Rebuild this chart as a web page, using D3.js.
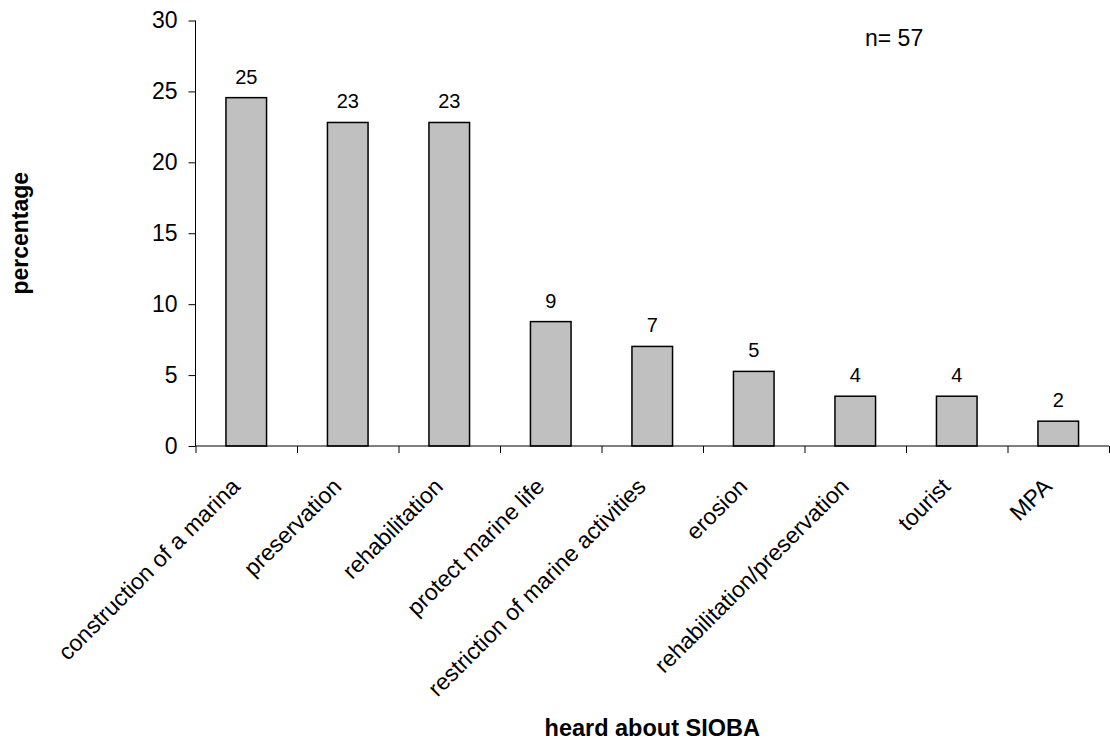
<!DOCTYPE html>
<html>
<head>
<meta charset="utf-8">
<script src="https://cdn.jsdelivr.net/npm/d3@7"></script>
<style>
  html, body { margin: 0; padding: 0; background: #fff; }
  svg { display: block; font-family: "Liberation Sans", Arial, sans-serif; }
</style>
</head>
<body>
<svg id="chart" width="1110" height="751"></svg>
<script>
// ---- data ----
const categories = [
  "construction of a marina",
  "preservation",
  "rehabilitation",
  "protect marine life",
  "restriction of marine activities",
  "erosion",
  "rehabilitation/preservation",
  "tourist",
  "MPA"
];
const percentages = [24.56, 22.81, 22.81, 8.77, 7.02, 5.26, 3.51, 3.51, 1.75];
const valueLabels = ["25", "23", "23", "9", "7", "5", "4", "4", "2"];
const yTicks = [0, 5, 10, 15, 20, 25, 30];
const yTitle = "percentage";
const xTitle = "heard about SIOBA";
const noteText = "n= 57";

// ---- layout ----
const svg = d3.select("#chart");
const x0 = 195.5, x1 = 1109, yBottom = 446, yTop = 20.5;

const x = d3.scaleBand().domain(categories).range([x0, x1]).paddingInner(0.6).paddingOuter(0.3);
const xb = d3.scaleLinear().domain([0, categories.length]).range([x0, x1]);
const y = d3.scaleLinear().domain([0, 30]).range([yBottom, yTop]);

// bars
svg.append("g").selectAll("rect").data(percentages).join("rect")
  .attr("x", (d, i) => x(categories[i]))
  .attr("y", d => y(d))
  .attr("width", x.bandwidth())
  .attr("height", d => y(0) - y(d))
  .attr("fill", "#c0c0c0")
  .attr("stroke", "#000")
  .attr("stroke-width", 1.5);

// value labels
svg.append("g").selectAll("text").data(percentages).join("text")
  .attr("x", (d, i) => x(categories[i]) + x.bandwidth() / 2)
  .attr("y", d => y(d) - 14)
  .attr("text-anchor", "middle")
  .attr("font-size", 20)
  .attr("fill", "#000")
  .text((d, i) => valueLabels[i]);

// y axis
const yAxis = d3.axisLeft(y).tickValues(yTicks).tickSize(7).tickPadding(11).tickFormat(d3.format("d"));
const gy = svg.append("g").attr("transform", `translate(${x0},0)`).call(yAxis);
gy.select(".domain").attr("stroke", "#000").attr("d", `M0,${yTop}V${yBottom}`);
gy.selectAll(".tick line").attr("stroke", "#000");
gy.selectAll(".tick text").attr("font-size", 23).attr("fill", "#000")
  .attr("font-family", "'Liberation Sans', Arial, sans-serif");

// x axis (ticks at band boundaries)
const xAxis = d3.axisBottom(xb).tickValues(d3.range(0, categories.length + 1)).tickSize(7).tickFormat("");
const gx = svg.append("g").attr("transform", `translate(0,${yBottom})`).call(xAxis);
gx.select(".domain").attr("stroke", "#000").attr("d", `M${x0},0H${x1}`);
gx.selectAll(".tick line").attr("stroke", "#000");

// category labels
svg.append("g").selectAll("text").data(categories).join("text")
  .attr("transform", d => `translate(${x(d) + x.bandwidth() / 2 - 5},${yBottom + 42}) rotate(-45)`)
  .attr("text-anchor", "end")
  .attr("font-size", 23)
  .attr("fill", "#000")
  .text(d => d);

// axis titles
svg.append("text")
  .attr("transform", `translate(28,${(yTop + yBottom) / 2}) rotate(-90)`)
  .attr("text-anchor", "middle")
  .attr("font-size", 23)
  .attr("font-weight", "bold")
  .text(yTitle);

svg.append("text")
  .attr("x", (x0 + x1) / 2)
  .attr("y", 736)
  .attr("text-anchor", "middle")
  .attr("font-size", 23.5)
  .attr("font-weight", "bold")
  .text(xTitle);

// note
svg.append("text")
  .attr("x", 865)
  .attr("y", 46)
  .attr("font-size", 23)
  .text(noteText);
</script>
</body>
</html>
